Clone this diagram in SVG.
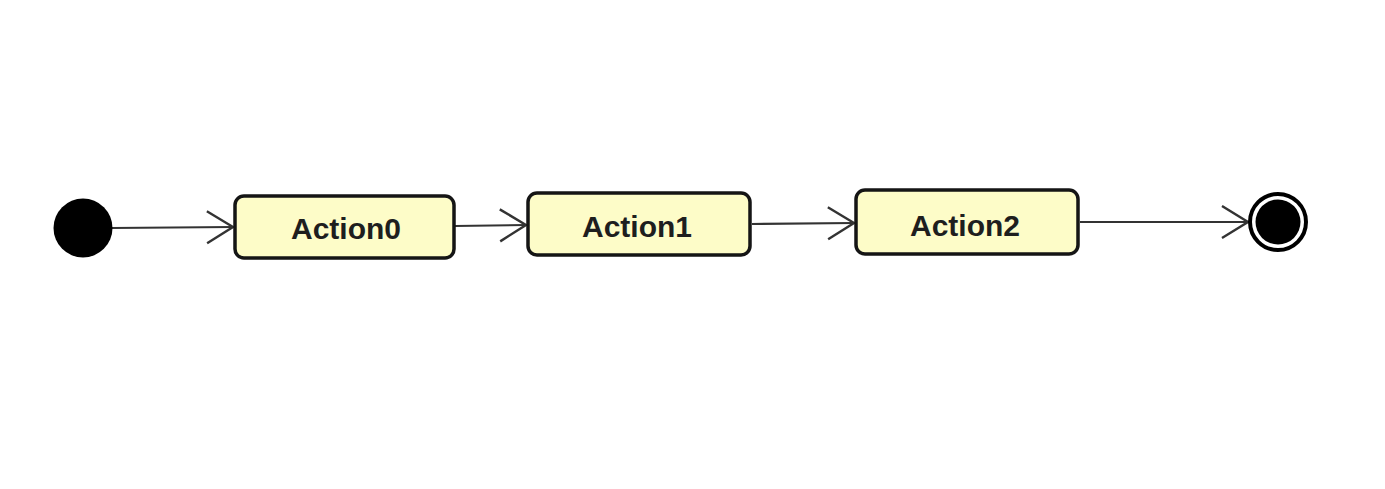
<svg xmlns="http://www.w3.org/2000/svg" width="1385" height="489" viewBox="0 0 1385 489">
  <defs>
    <style>
      .action rect { fill: #fdfcc8; stroke: #151515; stroke-width: 3.5; }
      .action text { font-family: "Liberation Sans", Arial, sans-serif; font-weight: bold; font-size: 30px; fill: #1e1e1e; text-anchor: middle; }
      .edge { stroke: #333; stroke-width: 2.2; fill: none; }
    </style>
    <marker id="open" markerWidth="30" markerHeight="36" refX="27" refY="17" orient="auto" markerUnits="userSpaceOnUse">
      <path d="M1,1 L27,17 L1,33" fill="none" stroke="#333" stroke-width="2.4"/>
    </marker>
  </defs>
  <rect width="1385" height="489" fill="#ffffff"/>
  <g id="connectors">
    <line class="edge" x1="112" y1="228" x2="233" y2="227" marker-end="url(#open)"/>
    <line class="edge" x1="455" y1="226" x2="526" y2="225" marker-end="url(#open)"/>
    <line class="edge" x1="752" y1="224" x2="854" y2="223" marker-end="url(#open)"/>
    <line class="edge" x1="1080" y1="222" x2="1248" y2="222" marker-end="url(#open)"/>
  </g>
  <g id="initial">
    <circle cx="83" cy="228" r="29.5" fill="#000"/>
  </g>
  <g id="action0" class="action">
    <rect x="235" y="196" width="219" height="62" rx="9"/>
    <text x="346" y="239">Action0</text>
  </g>
  <g id="action1" class="action">
    <rect x="528" y="193" width="222" height="62" rx="9"/>
    <text x="637" y="237">Action1</text>
  </g>
  <g id="action2" class="action">
    <rect x="856" y="190" width="222" height="64" rx="9"/>
    <text x="965" y="236">Action2</text>
  </g>
  <g id="final">
    <circle cx="1278" cy="222" r="28" fill="#fff" stroke="#000" stroke-width="4"/>
    <circle cx="1278" cy="222" r="22.5" fill="#000"/>
  </g>
</svg>
